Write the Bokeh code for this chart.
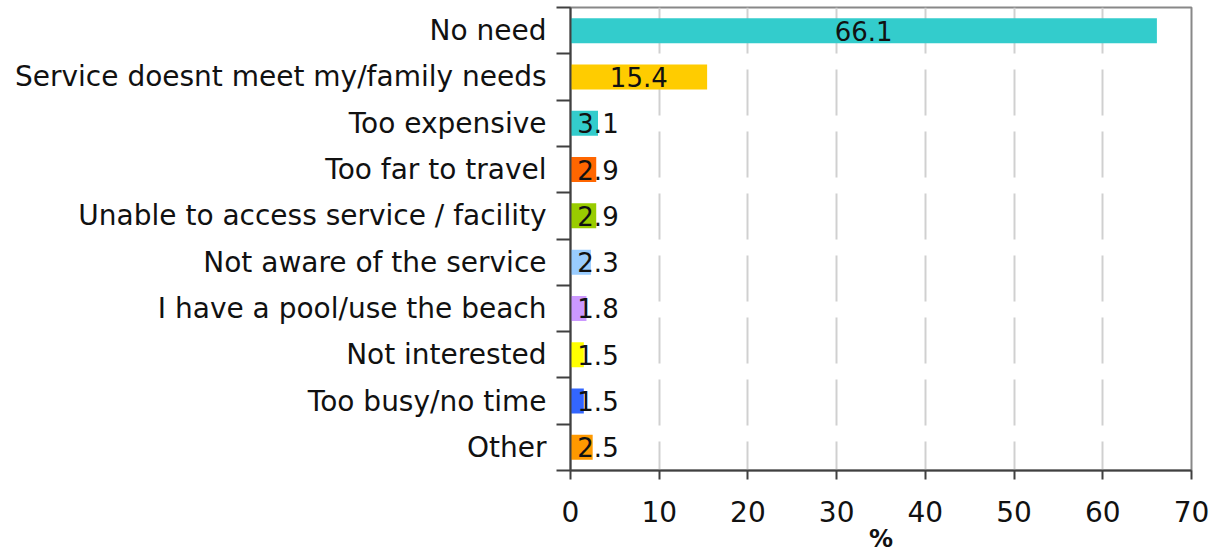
from bokeh.plotting import figure
from bokeh.models import Range1d, FixedTicker
from bokeh.core.properties import value
from bokeh.embed import file_html
from bokeh.resources import INLINE

categories = ["No need", "Service doesnt meet my/family needs", "Too expensive",
              "Too far to travel", "Unable to access service / facility",
              "Not aware of the service", "I have a pool/use the beach",
              "Not interested", "Too busy/no time", "Other"]
values = [66.1, 15.4, 3.1, 2.9, 2.9, 2.3, 1.8, 1.5, 1.5, 2.5]
colors = ["#33CCCC", "#FFCC00", "#33CCCC", "#FF6600", "#99CC00",
          "#99CCFF", "#CC99FF", "#FFFF00", "#3366FF", "#FF9900"]
x_ticks = [0, 10, 20, 30, 40, 50, 60, 70]
x_title = "%"

FONT = "DejaVu Sans"
n = len(categories)
idx = list(range(n))

p = figure(width=1218, height=560, output_backend="svg", toolbar_location=None,
           x_range=Range1d(0, 70), y_range=Range1d(n - 0.5, -0.5),
           min_border_left=570, min_border_right=27, min_border_top=7,
           min_border_bottom=90)

p.hbar(y=idx, left=0, right=values, height=0.54, color=colors, line_color=None)

label_x = [max(v / 2, 3.1) for v in values]
p.text(x=label_x, y=idx, text=[f"{v:.1f}" for v in values],
       text_align="center", text_baseline="middle",
       text_font=value(FONT), text_font_size="26px", text_color="#111111")

p.outline_line_color = "#888888"
p.outline_line_width = 2
p.background_fill_color = "white"
p.border_fill_color = "white"

# x axis
xa = p.xaxis[0]
xa.ticker = FixedTicker(ticks=x_ticks, minor_ticks=[])
xa.axis_line_color = "#404040"
xa.axis_line_width = 2
xa.major_tick_out = 9
xa.major_tick_in = 0
xa.major_tick_line_color = "#404040"
xa.major_tick_line_width = 2
xa.minor_tick_line_color = None
xa.major_label_text_font = FONT
xa.major_label_text_font_size = "28px"
xa.major_label_text_color = "#111111"
xa.major_label_standoff = 21
xa.axis_label = x_title
xa.axis_label_text_font = FONT
xa.axis_label_text_font_size = "24px"
xa.axis_label_text_font_style = "bold"
xa.axis_label_text_color = "#111111"
xa.axis_label_standoff = 0

# y axis
ya = p.yaxis[0]
ya.ticker = FixedTicker(ticks=idx, minor_ticks=[i - 0.5 for i in range(n + 1)])
ya.major_label_overrides = {i: c for i, c in enumerate(categories)}
ya.axis_line_color = "#404040"
ya.axis_line_width = 2
ya.major_tick_line_color = None
ya.minor_tick_line_color = "#404040"
ya.minor_tick_line_width = 2
ya.minor_tick_out = 14
ya.minor_tick_in = 0
ya.major_label_text_font = FONT
ya.major_label_text_font_size = "28px"
ya.major_label_text_color = "#111111"
ya.major_label_standoff = 10

p.ygrid.grid_line_color = None
p.xgrid.ticker = FixedTicker(ticks=x_ticks[1:-1])
p.xgrid.grid_line_color = "#D0D0D0"
p.xgrid.grid_line_width = 2
p.xgrid.grid_line_dash = "46 16"

open("out.html", "w").write(file_html(p, INLINE))
